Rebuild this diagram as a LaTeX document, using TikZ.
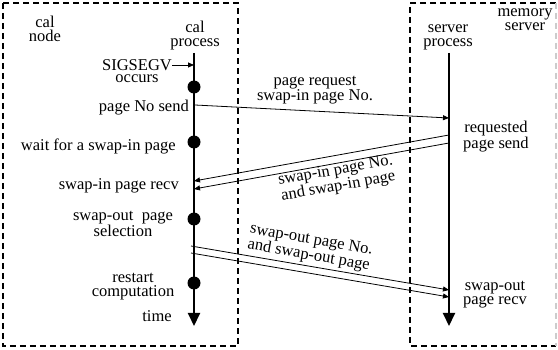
\documentclass[tikz,border=0pt]{standalone}
\usepackage{fontspec}
\setmainfont{Liberation Serif}
\usetikzlibrary{arrows.meta,positioning}

\begin{document}
\begin{tikzpicture}[x=1pt,y=-1pt,
  every node/.style={font=\fontsize{16.5}{14}\selectfont,inner sep=0pt,align=center},
  box/.style={line width=1.3pt,dash pattern=on 6pt off 4pt},
  proc/.style={line width=2pt,-{Triangle[width=12pt,length=13pt]}},
  msg/.style={line width=0.8pt,-{Triangle[width=5pt,length=6pt]}},
  stop/.style={circle,fill,minimum size=13pt}]
\useasboundingbox (0,0) rectangle (558,350);

% the two machines
\draw[box] (3,3) rectangle (238,346);
\draw[box] (556,3) -- (410,3) -- (410,346) -- (556,346);
\draw[box,gray!40] (556,3) -- (556,346); % cut off at the edge

\node (calnode) at (45,29) {cal\\node};
\node (calproc) at (195,36) {cal\\process};
\node (srvproc) at (448,37) {server\\process};
\node (memsrv) at (525,20) {memory\\server};

% time lines
\coordinate (calTop) at (194,53);
\coordinate (calBot) at (194,326);
\coordinate (srvTop) at (449,53);
\coordinate (srvBot) at (449,326);
\draw[proc] (calTop) -- (calBot);
\draw[proc] (srvTop) -- (srvBot);

\foreach \y/\n in {87/1,142/2,219/3,283/4}
  \node[stop] (dot\n) at (194,\y) {};

% left hand side labels
\node (sig) at (137,65) {SIGSEGV};
\node (occ) at (137,79) {occurs};
\draw[msg] (sig.east) -- (sig.east -| calTop);
\node[anchor=east] (send) at (189,108) {page No send};
\node[anchor=east] (wait) at (176,146) {wait for a swap-in page};
\node[anchor=east] (recv) at (179,186) {swap-in page recv};
\node (sel) at (123,224) {swap-out\ \ page\\selection};
\node (restart) at (133,287) {restart\\computation};
\node (time) at (157,316) {time};

% right hand side labels
\node (reqsend) at (496,137) {requested\\page send};
\node (outrecv) at (495,295) {swap-out\\page recv};

% messages
\coordinate (calA) at (195,105);
\coordinate (srvA) at (449,118);
\coordinate (srvB1) at (449,135);
\coordinate (srvB2) at (449,143);
\coordinate (calB1) at (194,181);
\coordinate (calB2) at (194,189);
\coordinate (calC1) at (191,246);
\coordinate (calC2) at (191,253);
\coordinate (srvC1) at (449,290);
\coordinate (srvC2) at (449,297);
\draw[msg] (calA) -- (srvA);
\draw[msg] (srvB1) -- (calB1);
\draw[msg] (srvB2) -- (calB2);
\draw[msg] (calC1) -- (srvC1);
\draw[msg] (calC2) -- (srvC2);

\node (req) at (315,90) {page request\\swap-in page No.};
\node[rotate=10] (swapin) at (337,179) {swap-in page No.\\and swap-in page};
\node[rotate=-10] (swapout) at (310,248) {swap-out page No.\\and swap-out page};
\end{tikzpicture}
\end{document}
